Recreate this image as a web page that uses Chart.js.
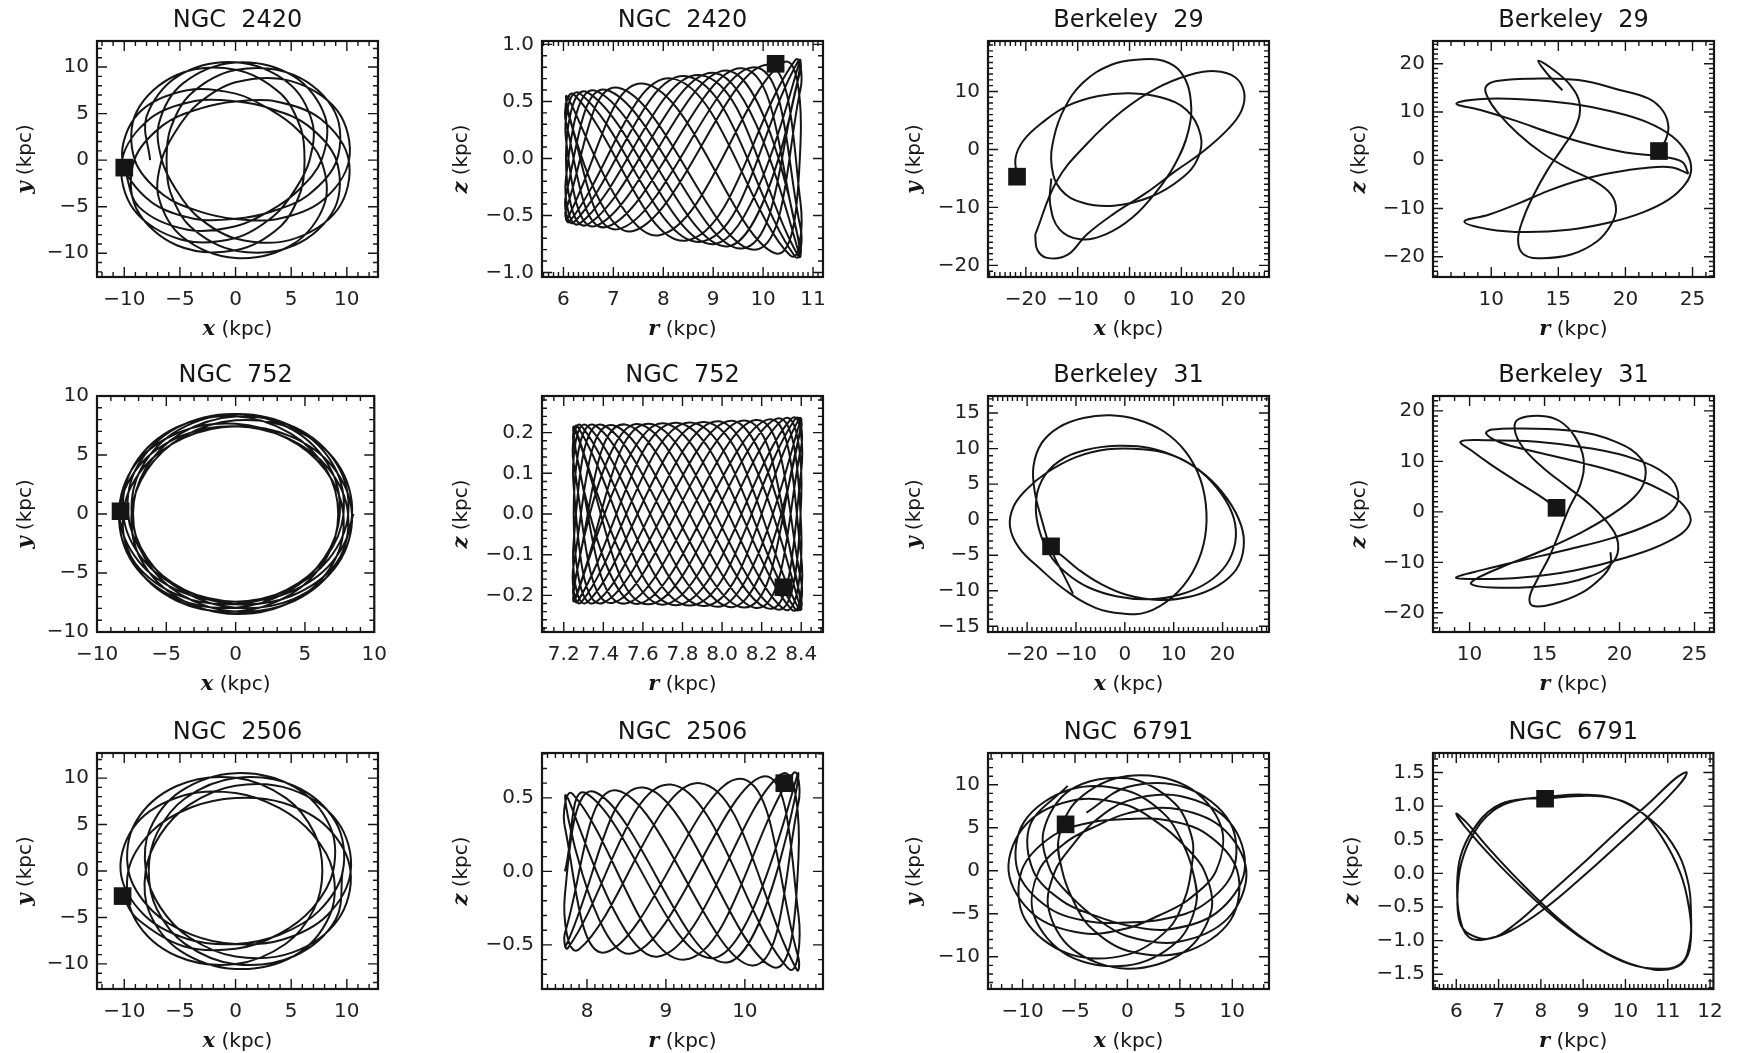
<!DOCTYPE html>
<html>
<head>
<meta charset="utf-8">
<title>Cluster orbits</title>
<script src="https://cdn.jsdelivr.net/npm/chart.js@4.4.1/dist/chart.umd.min.js"></script>
<style>
  html, body { margin: 0; padding: 0; background: #fff; }
  body { position: relative; width: 1740px; height: 1053px; overflow: hidden; }
  canvas { position: absolute; }
</style>
</head>
<body>
<script>
// orbit tracks in kpc
var ngc2420XY = [[-10.0,-0.8],[-8.69,-5.02],[-4.32,-7.47],[0,-7.1],[3.13,-5.41],[5.63,-3.25],[7.72,0],[8.05,4.65],[5.21,9.02],[0,10.49],[-4.75,8.22],[-6.88,3.97],[-6.62,0],[-5.38,-3.11],[-3.47,-6.01],[0,-8.41],[4.94,-8.56],[9.17,-5.3],[10.17,0],[7.66,4.42],[3.65,6.31],[0,6.3],[-3.2,5.54],[-6.51,3.76],[-9.1,0],[-8.93,-5.16],[-5.28,-9.14],[0,-9.68],[4.08,-7.06],[5.85,-3.38],[6.2,0],[5.87,3.39],[4.1,7.1],[0,9.72],[-5.28,9.15],[-8.91,5.15],[-9.05,0],[-6.48,-3.74],[-3.19,-5.53],[0,-6.32],[3.67,-6.35],[7.7,-4.45],[10.2,0],[9.16,5.29],[4.92,8.52],[0,8.36],[-3.45,5.98],[-5.38,3.11],[-6.65,0],[-6.91,-3.99],[-4.77,-8.26],[0,-10.51],[5.2,-9.0],[8.01,-4.63],[7.68,0],[5.6,3.24],[3.13,5.42],[0,7.15],[-4.34,7.52],[-8.72,5.04],
  [-10.17,0],[-7.66,-4.42],[-3.65,-6.31],[0,-6.3],[3.2,-5.54],[6.51,-3.76],[9.1,0],[8.93,5.16],[5.28,9.14],[0,9.68],[-4.08,7.06],[-5.85,3.38],[-6.2,0],[-5.87,-3.39],[-4.1,-7.1],[0,-9.72],[5.28,-9.15],[8.91,-5.15],[9.05,0],[6.48,3.74],[3.19,5.53],[0,6.32],[-3.67,6.35],[-7.7,4.45],[-10.2,0],[-9.16,-5.29],[-4.92,-8.52],[0,-8.36],[3.45,-5.98],[5.38,-3.11],[6.65,0],[6.91,3.99],[4.77,8.26],[0,10.51],[-5.2,9.0],[-8.01,4.63],[-7.68,0]];
var ngc2420RZ = [[6.12,0.555],[6.05,0.45],[7.1,-0.62],[9.82,0.8],[10.75,-0.61],[10.64,-0.86],[8.47,0.72],[6.21,-0.56],[6.05,-0.32],[6.87,0.6],[9.58,-0.79],[10.75,0.77],[10.71,0.86],[8.76,-0.73],[6.33,0.57],[6.05,0.17],[6.66,-0.59],[9.31,0.77],[10.75,-0.865],[9.04,0.75],[6.48,-0.58],[6.05,0],[6.48,0.58],[9.04,-0.75],[10.75,0.865],[9.31,-0.77],[6.66,0.59],[6.05,-0.17],[6.33,-0.57],[8.76,0.73],[10.71,-0.86],[10.75,-0.77],[9.58,0.79],[6.87,-0.6],[6.05,0.32],[6.21,0.56],[8.47,-0.72],[10.64,0.86],[10.75,0.61],[9.82,-0.8],[7.1,0.62],[6.05,-0.45],[6.12,-0.555],[8.18,0.7],[10.54,-0.85],[10.75,-0.39],[10.04,0.82],[7.35,-0.64],[6.06,0.55],[7.9,-0.675],[10.4,0.84],[10.75,0.135],[10.23,-0.83],[7.62,0.655],[6.05,-0.55]];
var berk29XY = [[-21.7,-4.7],[-22.0,-1.5],[-20.5,1.5],[-17.0,4.5],[-12.0,7.5],[-6.0,9.2],[0.0,9.7],[6.0,9.0],[11.0,6.8],[13.7,2.5],[13.2,-1.5],[10.0,-5.0],[4.0,-8.2],[-3.0,-9.7],[-9.0,-9.2],[-13.2,-7.0],[-15.0,-3.0],[-14.6,2.0],[-12.6,7.0],[-9.0,11.5],[-3.5,14.6],[2.0,15.5],[6.5,15.3],[10.0,13.2],[11.8,8.5],[11.3,3.0],[8.8,-2.5],[5.0,-7.5],[0.5,-11.8],[-4.5,-14.6],[-9.5,-15.5],[-13.5,-13.8],[-15.3,-9.5],[-15.1,-5.0]];
var berk29XYb = [[-18.2,-14.7],[-14.0,-5.4],[-8.3,0.9],[-1.3,6.7],[5.1,10.5],[11.4,12.8],[16.5,13.5],[20.3,12.5],[22.1,9.9],[21.6,6.7],[19.0,3.5],[14.0,-0.5],[8.9,-3.7],[3.2,-7.5],[-3.2,-11.2],[-8.3,-14.7],[-12.0,-18.2],[-15.9,-18.7],[-17.8,-17.3],[-18.2,-14.7]];
var berk29RZ = [[15.3,14.5],[14.3,17.5],[13.5,20.6],[14.6,18.8],[15.9,15.5],[16.6,11.5],[16.3,7.0],[15.3,2.5],[14.2,-2.0],[13.2,-7.0],[12.4,-12.0],[12.0,-16.5],[12.4,-19.5],[13.8,-20.3],[16.0,-19.5],[17.9,-16.8],[18.9,-13.5],[19.3,-10.2],[18.9,-7.0],[17.6,-4.2],[15.8,-1.8],[13.8,1.5],[12.0,5.5],[10.5,9.8],[9.7,13.2],[9.6,15.2],[10.4,16.4],[13.0,16.9],[16.5,16.6],[19.5,14.6],[21.7,12.8],[22.8,10.2],[23.2,7.0],[23.0,4.2],[22.5,1.9]];
var berk29RZb = [[24.7,-2.8],[24.2,-0.3],[22.5,0.8],[20.0,1.6],[17.3,3.3],[14.5,5.6],[11.8,8.2],[9.2,10.4],[7.4,11.7],[9.3,12.7],[12.5,12.6],[16.0,11.7],[19.0,10.1],[21.6,7.9],[23.5,4.9],[24.6,1.3],[24.9,-2.0],[24.5,-4.8],[23.3,-8.0],[21.3,-10.8],[18.8,-12.9],[15.8,-14.4],[12.5,-14.9],[9.8,-14.3],[8.0,-12.7],[9.8,-11.3],[12.0,-9.0],[14.2,-6.4],[16.5,-4.2],[19.0,-2.6],[21.5,-1.6],[23.5,-1.5],[24.7,-2.8]];
var ngc752XY = [[-8.5,0],[-7.24,-4.18],[-4.01,-6.94],[0,-7.63],[3.71,-6.42],[6.47,-3.74],[7.78,0],[7.08,4.09],[4.23,7.32],[0,8.47],[-4.11,7.12],[-6.78,3.92],[-7.5,0],[-6.41,-3.7],[-3.79,-6.56],[0,-7.95],[4.16,-7.21],[7.36,-4.25],[8.39,0],[6.98,4.03],[3.84,6.64],[0,7.43],[-3.73,6.45],[-6.69,3.87],[-8.12,0],[-7.3,-4.22],[-4.25,-7.35],[0,-8.27],[3.95,-6.83],[6.53,-3.77],[7.4,0],[6.54,3.78],[3.95,6.84],[0,8.28],[-4.25,7.35],[-7.29,4.21],[-8.11,0],[-6.69,-3.86],[-3.72,-6.44],[0,-7.43],[3.84,-6.65],[6.99,-4.04],[8.4,0],[7.36,4.25],[4.16,7.2],[0,7.94],[-3.79,6.56],[-6.41,3.7],[-7.51,0],[-6.8,-3.93],[-4.12,-7.13],[0,-8.48],[4.23,-7.32],[7.07,-4.08],[7.77,0],[6.47,3.74],[3.71,6.42],[0,7.64],[-4.01,6.95],[-7.25,4.19],
  [-8.39,0],[-6.98,-4.03],[-3.84,-6.64],[0,-7.43],[3.73,-6.45],[6.69,-3.87],[8.12,0],[7.3,4.22],[4.25,7.35],[0,8.27],[-3.95,6.83],[-6.53,3.77],[-7.4,0],[-6.54,-3.78],[-3.95,-6.84],[0,-8.28],[4.25,-7.35],[7.29,-4.21],[8.11,0],[6.69,3.86],[3.72,6.44],[0,7.43],[-3.84,6.65],[-6.99,4.04],[-8.4,0],[-7.36,-4.25],[-4.16,-7.2],[0,-7.94],[3.79,-6.56],[6.41,-3.7],[7.51,0],[6.8,3.93],[4.12,7.13],[0,8.48],[-4.23,7.32],[-7.07,4.08],[-7.77,0],[-6.47,-3.74],[-3.71,-6.42],[0,-7.64],[4.01,-6.95],[7.25,-4.19],[8.5,0]];
var ngc752RZ = [[7.25,0.215],[7.63,-0.222],[8.27,0.233],[8.4,-0.037],[8.31,-0.233],[7.7,0.223],[7.25,-0.215],[7.57,0.221],[8.23,-0.232],[8.4,0.106],[8.35,0.234],[7.77,-0.224],[7.27,0.215],[7.25,0.174],[7.51,-0.22],[8.17,0.231],[8.4,-0.166],[8.37,-0.234],[7.84,0.225],[7.29,-0.216],[7.25,-0.125],[7.45,0.218],[8.11,-0.23],[8.4,0.209],[8.39,0.235],[7.91,-0.226],[7.32,0.216],[7.25,0.067],[7.4,-0.218],[8.05,0.229],[8.4,-0.235],[7.98,0.228],[7.36,-0.217],[7.25,0],[7.36,0.217],[7.98,-0.228],[8.4,0.235],[8.05,-0.229],[7.4,0.218],[7.25,-0.067],[7.32,-0.216],[7.91,0.226],[8.39,-0.235],[8.4,-0.209],[8.11,0.23],[7.45,-0.218],[7.25,0.125],[7.29,0.216],[7.84,-0.225],[8.37,0.234],[8.4,0.166],[8.17,-0.231],[7.51,0.22],[7.25,-0.174],[7.27,-0.215],[7.77,0.224],[8.35,-0.234],[8.4,-0.106],[8.23,0.232],[7.57,-0.221],[7.25,0.215],[7.7,-0.223],[8.31,0.233],[8.4,0.037],[8.27,-0.233],[7.63,0.222],[7.25,-0.215]];
var berk31XY = [[-10.6,-10.4],[-12.5,-7.8],[-14.3,-5.4],[-15.5,-3.5],[-17.0,0.0],[-18.4,3.8],[-18.7,7.5],[-17.0,10.8],[-13.5,13.0],[-8.5,14.3],[-3.0,14.7],[2.5,14.1],[8.0,12.4],[12.5,9.5],[15.5,5.6],[16.7,1.0],[16.1,-3.5],[13.7,-7.6],[9.7,-10.9],[4.5,-13.0],[-0.5,-13.2],[-6.0,-12.4],[-12.0,-10.0],[-17.5,-6.8],[-21.6,-4.0],[-23.5,-1.0],[-22.8,1.8],[-20.2,4.2],[-16.0,6.6],[-10.0,8.8],[-3.5,9.9],[3.5,9.9],[10.0,9.0],[15.5,6.8],[19.8,3.6],[22.3,0.2],[22.6,-3.2],[20.8,-6.3],[17.0,-8.8],[11.5,-10.5],[5.0,-11.2],[-1.5,-10.8],[-7.5,-9.5],[-12.0,-7.5],[-15.3,-5.0],[-17.5,-1.5],[-18.2,2.0],[-17.0,5.5],[-13.5,8.2],[-8.0,9.8],[-1.5,10.4],[5.0,10.1],[11.0,8.7],[16.5,6.3],[21.0,2.9],[23.8,-0.8],[24.3,-4.0],[22.8,-7.0],[19.0,-9.3],[13.5,-10.8],[7.0,-11.3],[0.5,-10.6],[-5.0,-9.0],[-9.5,-7.0],[-13.0,-5.0],[-15.3,-3.9]];
var berk31RZ = [[15.8,0.8],[14.6,3.3],[13.0,6.3],[11.4,9.4],[10.1,12.2],[9.4,13.9],[11.0,14.2],[14.5,13.9],[18.0,12.6],[21.0,10.5],[23.2,7.2],[23.9,3.8],[23.6,0.5],[22.0,-2.5],[19.5,-5.2],[16.5,-7.5],[13.5,-9.6],[11.0,-11.4],[9.1,-13.0],[10.5,-13.3],[13.5,-13.0],[17.0,-11.6],[20.5,-9.0],[23.3,-5.8],[24.7,-2.3],[24.3,1.2],[22.8,4.3],[20.5,7.2],[17.5,9.7],[14.5,11.8],[12.0,13.8],[11.1,15.5],[11.5,16.3],[13.5,16.5],[17.0,16.0],[19.8,13.8],[21.5,10.3],[21.7,6.5],[21.0,3.0],[19.5,-0.5],[17.5,-4.0],[15.0,-7.5],[12.5,-10.5],[10.6,-13.0],[10.1,-14.3],[11.5,-15.0],[15.0,-14.7],[18.0,-12.8],[19.6,-9.8],[19.9,-6.2],[19.3,-2.5],[18.0,1.5],[16.5,5.0],[14.8,9.0],[13.5,13.0],[13.0,16.5],[13.3,18.4],[14.8,19.0],[16.0,18.0],[17.0,15.0],[17.6,10.5],[17.4,5.5],[16.6,0.5],[16.0,-4.0],[15.3,-9.0],[14.5,-13.5],[14.0,-17.0],[14.2,-18.6],[15.5,-18.3],[17.5,-16.0],[18.8,-13.0],[19.4,-10.5],[19.4,-8.0]];
var ngc2506XY = [[-10.15,-2.7],[-8.87,-5.12],[-4.68,-8.1],[0,-8.38],[3.92,-6.78],[6.92,-4.0],[8.77,0],[8.46,4.89],[5.24,9.08],[0,10.53],[-4.95,8.57],[-7.71,4.45],[-8.06,0],[-6.76,-3.91],[-4.14,-7.16],[0,-9.21],[5.07,-8.78],[9.17,-5.3],[10.33,0],[8.21,4.74],[4.25,7.35],[0,7.87],[-3.96,6.86],[-7.48,4.32],[-9.64,0],[-9.02,-5.21],[-5.29,-9.15],[0,-10.01],[4.52,-7.83],[7.06,-4.08],[7.8,0],[7.08,4.09],[4.54,7.85],[0,10.04],[-5.29,9.15],[-9.01,5.2],[-9.62,0],[-7.46,-4.31],[-3.96,-6.85],[0,-7.87],[4.26,-7.38],[8.24,-4.76],[10.35,0],[9.17,5.3],[5.06,8.76],[0,9.18],[-4.13,7.14],[-6.76,3.91],[-8.08,0],[-7.74,-4.47],[-4.96,-8.59],[0,-10.54],[5.27,-9.13],[8.43,-4.87],[8.74,0],[6.9,3.99],[3.92,6.79],[0,8.4],[-4.69,8.12],[-8.89,5.13],
  [-10.33,0],[-8.21,-4.74],[-4.25,-7.35],[0,-7.87],[3.96,-6.86],[7.48,-4.32],[9.64,0],[9.02,5.21],[5.29,9.15],[0,10.01],[-4.52,7.83],[-7.06,4.08],[-7.8,0],[-7.08,-4.09],[-4.54,-7.85],[0,-10.04],[5.29,-9.15],[9.01,-5.2],[9.62,0]];
var ngc2506RZ = [[7.72,0],[7.99,0.53],[9.6,-0.59],[10.68,0.67],[9.77,-0.62],[8.1,0.54],[7.72,-0.16],[7.9,-0.53],[9.43,0.6],[10.66,-0.67],[10.68,-0.59],[9.94,0.63],[8.24,-0.55],[7.72,0.3],[7.82,0.525],[9.24,-0.6],[10.61,0.665],[10.68,0.47],[10.09,-0.64],[8.38,0.55],[7.72,-0.42],[7.76,-0.52],[9.06,0.59],[10.55,-0.66],[10.68,-0.3],[10.23,0.645],[8.54,-0.56],[7.73,0.52],[8.89,-0.58],[10.46,0.66],[10.68,0.1],[10.35,-0.65],[8.71,0.57],[7.72,-0.52]];
var ngc6791XY = [[-5.7,9.87],[-9.27,5.36],[-8.98,0],[-6.16,-3.56],[-3.03,-5.25],[0,-6.36],[3.94,-6.82],[8.49,-4.9],[11.17,0],[9.76,5.64],[5.02,8.69],[0,8.13],[-3.26,5.64],[-5.21,3.01],[-6.9,0],[-7.54,-4.36],[-5.26,-9.11],[0,-11.39],[5.44,-9.41],[8.0,-4.62],[7.33,0],[5.31,3.07],[3.12,5.4],[0,7.62],[-4.78,8.28],[-9.57,5.53],[-11.34,0],[-8.89,-5.14],[-4.2,-7.27],[0,-6.68],[3.0,-5.2],[5.81,-3.36],[8.45,0],[8.93,5.16],[5.68,9.83],[0,11.02],[-4.75,8.23],[-6.56,3.79],[-6.22,0],[-5.32,-3.07],[-3.69,-6.39],[0,-9.3],[5.46,-9.45],[9.86,-5.69],[10.47,0],[7.49,4.33],[3.43,5.94],[0,6.01],[-3.28,5.67],[-7.09,4.1],[-10.09,0],[-9.77,-5.64],[-5.58,-9.66],[0,-9.75],[3.91,-6.76],[5.48,-3.17],[6.07,0],[6.2,3.58],[4.52,7.83],[0,10.75],
  [-5.44,9.41],[-8.0,4.62],[-7.33,0],[-5.31,-3.07],[-3.12,-5.4],[0,-7.62],[4.78,-8.28],[9.57,-5.53],[11.34,0],[8.89,5.14],[4.2,7.27],[0,6.68],[-3.0,5.2],[-5.81,3.36],[-8.45,0],[-8.93,-5.16],[-5.68,-9.83],[0,-11.02],[4.75,-8.23],[6.56,-3.79],[6.22,0],[5.32,3.07],[3.69,6.39],[0,9.3],[-5.46,9.45],[-9.86,5.69],[-10.47,0],[-7.49,-4.33],[-3.43,-5.94],[0,-6.01],[3.28,-5.67],[7.09,-4.1],[10.09,0],[9.77,5.64],[5.58,9.66],[0,9.75],[-3.91,6.76]];
var ngc6791RZ = [[8.1,1.11],[8.9,1.15],[9.6,1.13],[10.3,0.95],[10.85,0.55],[11.3,0.0],[11.5,-0.5],[11.55,-0.95],[11.4,-1.3],[11.0,-1.43],[10.3,-1.38],[9.6,-1.2],[8.9,-0.92],[8.2,-0.55],[7.5,-0.12],[6.8,0.35],[6.25,0.75],[6.0,0.89],[6.2,0.7],[6.9,0.2],[7.7,-0.3],[8.5,-0.75],[9.3,-1.1],[10.1,-1.35],[10.8,-1.42],[11.3,-1.35],[11.5,-1.1],[11.55,-0.6],[11.45,-0.05],[11.1,0.45],[10.5,0.85],[9.8,1.1],[9.0,1.17],[8.2,1.14],[7.4,1.08],[6.85,0.92],[6.4,0.58],[6.12,0.15],[6.03,-0.3],[6.08,-0.72],[6.3,-0.9],[6.8,-0.97],[7.4,-0.75],[8.2,-0.3],[9.0,0.15],[9.8,0.62],[10.6,1.07],[11.2,1.42],[11.45,1.5],[11.25,1.3],[10.5,0.82],[9.7,0.35],[8.9,-0.1],[8.1,-0.52],[7.3,-0.85],[6.7,-0.98],[6.3,-0.95],[6.08,-0.65],[6.02,-0.2],[6.1,0.25],[6.4,0.65],[6.9,0.98],[7.5,1.1],[8.1,1.11]];

// present positions (filled squares)
var ngc2420Now = [-10.0, -0.8], ngc2420NowRZ = [10.25, 0.83];
var berk29Now = [-21.7, -4.7], berk29NowRZ = [22.5, 1.9];
var ngc752Now = [-8.3, 0.23], ngc752NowRZ = [8.31, -0.18];
var berk31Now = [-15.1, -3.75], berk31NowRZ = [15.8, 0.8];
var ngc2506Now = [-10.15, -2.7], ngc2506NowRZ = [10.5, 0.6];
var ngc6791Now = [-5.9, 5.4], ngc6791NowRZ = [8.1, 1.11];

// tick values
var ticks10 = [-10, -5, 0, 5, 10];
var ticks20 = [-20, -10, 0, 10, 20];
var ticks15 = [-15, -10, -5, 0, 5, 10, 15];
var ticksB29y = [-20, -10, 0, 10];
var ticksR2420 = [6, 7, 8, 9, 10, 11];
var ticksZ2420 = [-1.0, -0.5, 0.0, 0.5, 1.0];
var ticksRBerk = [10, 15, 20, 25];
var ticksR752 = [7.2, 7.4, 7.6, 7.8, 8.0, 8.2, 8.4];
var ticksZ752 = [-0.2, -0.1, 0.0, 0.1, 0.2];
var ticksR2506 = [8, 9, 10];
var ticksZ2506 = [-0.5, 0.0, 0.5];
var ticksR6791 = [6, 7, 8, 9, 10, 11, 12];
var ticksZ6791 = [-1.5, -1.0, -0.5, 0.0, 0.5, 1.0, 1.5];

var ink = "#151515";
var boxLeft = [97, 542, 988, 1433];
var boxTop = [41, 396, 753];
var boxW = 281, boxH = 236;
var padL = 100, padT = 41, padR = 20, axisH = 68;

var panels = [
  {title: "NGC  2420", xl: "x", yl: "y", paths: [ngc2420XY], now: ngc2420Now, x: [-12.45, 12.8], y: [-12.55, 12.8], xt: ticks10, yt: ticks10, xm: 1, ym: 1, xd: 0, yd: 0, yOff: 73, ten: 0.35},
  {title: "NGC  2420", xl: "r", yl: "z", paths: [ngc2420RZ], now: ngc2420NowRZ, x: [5.57, 11.2], y: [-1.04, 1.03], xt: ticksR2420, yt: ticksZ2420, xm: 0.1, ym: 0.1, xd: 0, yd: 1, yOff: 82, ten: 0.4},
  {title: "Berkeley  29", xl: "x", yl: "y", paths: [berk29XY, berk29XYb], now: berk29Now, x: [-27.3, 26.9], y: [-22, 18.7], xt: ticks20, yt: ticksB29y, xm: 1, ym: 1, xd: 0, yd: 0, yOff: 75, ten: 0.4},
  {title: "Berkeley  29", xl: "r", yl: "z", paths: [berk29RZ, berk29RZb], now: berk29NowRZ, x: [5.66, 26.6], y: [-24.2, 24.7], xt: ticksRBerk, yt: ticks20, xm: 1, ym: 1, xd: 0, yd: 0, yOff: 75, ten: 0.4},
  {title: "NGC  752", xl: "x", yl: "y", paths: [ngc752XY], now: ngc752Now, x: [-10, 10], y: [-10, 10], xt: ticks10, yt: ticks10, xm: 1, ym: 1, xd: 0, yd: 0, yOff: 73, ten: 0.35},
  {title: "NGC  752", xl: "r", yl: "z", paths: [ngc752RZ], now: ngc752NowRZ, x: [7.09, 8.51], y: [-0.29, 0.29], xt: ticksR752, yt: ticksZ752, xm: 0.05, ym: 0.02, xd: 1, yd: 1, yOff: 82, ten: 0.4},
  {title: "Berkeley  31", xl: "x", yl: "y", paths: [berk31XY], now: berk31Now, x: [-28.0, 29.5], y: [-15.8, 17.4], xt: ticks20, yt: ticks15, xm: 1, ym: 1, xd: 0, yd: 0, yOff: 75, ten: 0.4},
  {title: "Berkeley  31", xl: "r", yl: "z", paths: [berk31RZ], now: berk31NowRZ, x: [7.56, 26.3], y: [-23.8, 22.95], xt: ticksRBerk, yt: ticks20, xm: 1, ym: 1, xd: 0, yd: 0, yOff: 75, ten: 0.4},
  {title: "NGC  2506", xl: "x", yl: "y", paths: [ngc2506XY], now: ngc2506Now, x: [-12.45, 12.8], y: [-12.7, 12.7], xt: ticks10, yt: ticks10, xm: 1, ym: 1, xd: 0, yd: 0, yOff: 73, ten: 0.35},
  {title: "NGC  2506", xl: "r", yl: "z", paths: [ngc2506RZ], now: ngc2506NowRZ, x: [7.43, 10.99], y: [-0.8, 0.805], xt: ticksR2506, yt: ticksZ2506, xm: 0.1, ym: 0.1, xd: 0, yd: 1, yOff: 82, ten: 0.4},
  {title: "NGC  6791", xl: "x", yl: "y", paths: [ngc6791XY], now: ngc6791Now, x: [-13.3, 13.5], y: [-13.75, 13.7], xt: ticks10, yt: ticks10, xm: 1, ym: 1, xd: 0, yd: 0, yOff: 75, ten: 0.35},
  {title: "NGC  6791", xl: "r", yl: "z", paths: [ngc6791RZ], now: ngc6791NowRZ, x: [5.45, 12.08], y: [-1.72, 1.79], xt: ticksR6791, yt: ticksZ6791, xm: 0.1, ym: 0.1, xd: 0, yd: 1, yOff: 82, ten: 0.4}
];

function fmt(v, d) {
  return (v < 0 ? "\u2212" : "") + Math.abs(v).toFixed(d);
}

// "x (kpc)" with the variable in italics
function axisTitle(ctx, letter, cx, cy) {
  var f1 = "italic bold 21px 'DejaVu Serif'", f2 = "20px 'DejaVu Sans'";
  var rest = " (kpc)";
  ctx.font = f1;
  var w1 = ctx.measureText(letter).width;
  ctx.font = f2;
  var w2 = ctx.measureText(rest).width;
  var x0 = cx - (w1 + w2) / 2;
  ctx.textAlign = "left";
  ctx.textBaseline = "alphabetic";
  ctx.font = f1;
  ctx.fillText(letter, x0, cy + 7);
  ctx.font = f2;
  ctx.fillText(rest, x0 + w1, cy + 7);
}

function tickRow(ctx, scale, lo, hi, majors, minor, horiz, a) {
  var n0 = Math.ceil(lo / minor - 1e-6), n1 = Math.floor(hi / minor + 1e-6);
  ctx.beginPath();
  for (var i = n0; i <= n1; i++) {
    var v = i * minor;
    var big = majors.some(function (m) { return Math.abs(m - v) < minor / 10; });
    var len = big ? 10 : 5;
    var px = scale.getPixelForValue(v);
    if (horiz) {
      ctx.moveTo(px, a.bottom); ctx.lineTo(px, a.bottom - len);
      ctx.moveTo(px, a.top); ctx.lineTo(px, a.top + len);
    } else {
      ctx.moveTo(a.left, px); ctx.lineTo(a.left + len, px);
      ctx.moveTo(a.right, px); ctx.lineTo(a.right - len, px);
    }
  }
  ctx.stroke();
}

function framePlugin(p) {
  return {
    id: "frame",
    afterDraw: function (chart) {
      var ctx = chart.ctx, a = chart.chartArea;
      ctx.save();
      ctx.strokeStyle = ink;
      ctx.fillStyle = ink;
      ctx.lineWidth = 1.4;
      tickRow(ctx, chart.scales.x, p.x[0], p.x[1], p.xt, p.xm, true, a);
      tickRow(ctx, chart.scales.y, p.y[0], p.y[1], p.yt, p.ym, false, a);
      ctx.lineWidth = 2.2;
      ctx.strokeRect(a.left, a.top, a.right - a.left, a.bottom - a.top);

      ctx.font = "24px 'DejaVu Sans'";
      ctx.textAlign = "center";
      ctx.textBaseline = "middle";
      ctx.fillText(p.title, (a.left + a.right) / 2, a.top - 20);

      axisTitle(ctx, p.xl, (a.left + a.right) / 2, a.bottom + 51);
      ctx.translate(a.left - p.yOff, (a.top + a.bottom) / 2);
      ctx.rotate(-Math.PI / 2);
      axisTitle(ctx, p.yl, 0, 0);
      ctx.restore();
    }
  };
}

function axis(range, list, dec, pad, fit) {
  return {
    type: "linear",
    min: range[0],
    max: range[1],
    afterBuildTicks: function (s) { s.ticks = list.map(function (v) { return {value: v}; }); },
    afterFit: fit,
    grid: {display: false, drawTicks: false},
    border: {display: false},
    ticks: {
      padding: pad,
      color: "#222",
      font: {family: "DejaVu Sans", size: 20},
      maxRotation: 0,
      minRotation: 0,
      autoSkip: false,
      callback: function (v) { return fmt(v, dec); }
    }
  };
}

panels.forEach(function (p, i) {
  var col = i % 4, row = Math.floor(i / 4);
  var cv = document.createElement("canvas");
  cv.width = padL + boxW + padR;
  cv.height = padT + boxH + axisH;
  cv.style.left = (boxLeft[col] - padL) + "px";
  cv.style.top = (boxTop[row] - padT) + "px";
  document.body.appendChild(cv);

  var sets = p.paths.map(function (path) {
    return {data: path, showLine: true, pointRadius: 0, borderColor: ink, borderWidth: 2, tension: p.ten, fill: false};
  });
  sets.push({data: [p.now], showLine: false, pointStyle: "rect", pointRadius: 12.5, backgroundColor: ink, borderWidth: 0});

  new Chart(cv.getContext("2d"), {
    type: "scatter",
    data: {datasets: sets},
    options: {
      responsive: false,
      animation: false,
      devicePixelRatio: 1,
      events: [],
      layout: {padding: {left: 0, top: padT, right: padR, bottom: 0}},
      plugins: {legend: {display: false}, tooltip: {enabled: false}},
      scales: {
        x: axis(p.x, p.xt, p.xd, 11, function (s) { s.height = axisH; }),
        y: axis(p.y, p.yt, p.yd, 8, function (s) { s.width = padL; })
      }
    },
    plugins: [framePlugin(p)]
  });
});
</script>
</body>
</html>
